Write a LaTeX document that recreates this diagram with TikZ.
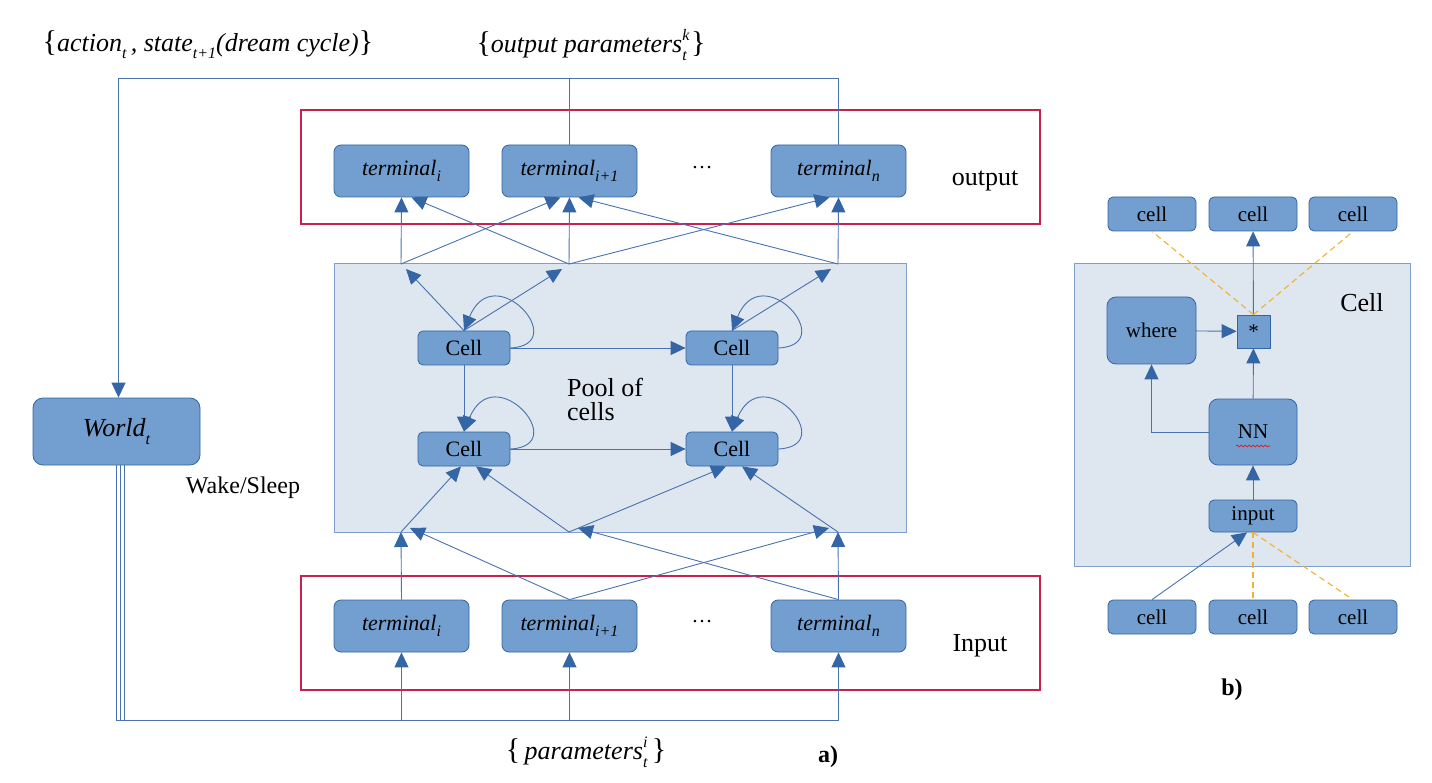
\documentclass[tikz,border=0pt]{standalone}
\usepackage{fontspec}
\setmainfont{Liberation Serif}
\usetikzlibrary{arrows.meta,decorations.pathmorphing}
\definecolor{nfill}{HTML}{729FCF}
\definecolor{nedge}{HTML}{3465A4}
\definecolor{lcol}{HTML}{4A72B0}
\definecolor{poolfill}{HTML}{DEE6EF}
\definecolor{pooledge}{HTML}{7F9FCF}
\definecolor{redc}{HTML}{C9214E}
\definecolor{orng}{HTML}{F0B232}
\newcommand\fs[1]{\fontsize{#1}{#1}\selectfont}
\newcommand\mysub[1]{\raisebox{-0.6ex}{\fs{16}#1}}
\newcommand\mysupsub[2]{\makebox[0pt][l]{\raisebox{1.0ex}{\fs{16}#1}}\raisebox{-0.7ex}{\fs{16}#2}}
\newcommand\bigbr[1]{{\fs{30}\upshape #1}}
\tikzset{
  rbox/.style={draw=nedge, fill=nfill, line width=0.8pt, rounded corners=7pt, inner sep=0pt},
  sbox/.style={draw=nedge, fill=nfill, line width=0.8pt, inner sep=0pt},
  pool/.style={draw=pooledge, fill=poolfill, line width=1pt, inner sep=0pt},
  redbox/.style={draw=redc, line width=1.4pt, inner sep=0pt},
  conn/.style={draw=lcol, line width=0.9pt},
  arr/.style={conn, -{Triangle[length=15pt,width=14pt,color=nedge]}},
  dsh/.style={draw=orng, line width=1.1pt, dash pattern=on 6pt off 4pt},
  term/.style={rbox, minimum width=135, minimum height=52, font=\fs{22}\itshape},
  pcell/.style={rbox, rounded corners=5pt, minimum width=92, minimum height=34, font=\fs{22}},
  bcell/.style={rbox, rounded corners=5pt, minimum width=88, minimum height=34, font=\fs{21}},
  lbl/.style={inner sep=0pt},
}
\begin{document}
\begin{tikzpicture}[x=1pt,y=-1pt]
\useasboundingbox (0,0) rectangle (1432,783);
% ---------- a) ----------
\node[lbl] (lblA) at (208,45) {\fs{26}\itshape \bigbr{\{}action\mysub{t}\,, state\mysub{t+1}(dream cycle)\bigbr{\}}};
\node[lbl] (lblB) at (591,45) {\fs{26}\itshape \bigbr{\{}output parameters\mysupsub{k}{t}\,\bigbr{\}}};
\node[lbl] (lblC) at (586,752) {\fs{26}\itshape \bigbr{\{}\,parameters\mysupsub{i}{t}\,\bigbr{\}}};
\node[lbl] (la) at (828,757) {\fs{24}\bfseries a)};

\node[redbox, minimum width=739, minimum height=114] (outbox) at (670.5,167) {};
\node[redbox, minimum width=739, minimum height=114] (inbox) at (670.5,633) {};
\node[pool, minimum width=572, minimum height=268] (pool) at (620,398) {};

\node[term] (T1) at (401.5,171) {terminal\mysub{i}};
\node[term] (T2) at (569.5,171) {terminal\mysub{i+1}};
\node[term] (Tn) at (838.5,171) {terminal\mysub{n}};
\node[lbl] (dots1) at (702,168) {\fs{21}\dots};
\node[lbl] (outl) at (985,181) {\fs{26}output};

\node[term] (I1) at (401.5,626) {terminal\mysub{i}};
\node[term] (I2) at (569.5,626) {terminal\mysub{i+1}};
\node[term] (In) at (838.5,626) {terminal\mysub{n}};
\node[lbl] (dots2) at (702,622) {\fs{21}\dots};
\node[lbl] (inl) at (980,646) {\fs{26}Input};

\node[rbox, rounded corners=10pt, minimum width=167, minimum height=67, font=\fs{26}\itshape] (W) at (116.5,431.5) {World\mysub{t}};
\node[lbl] (ws) at (243,488) {\fs{24}Wake/Sleep};

\node[pcell] (C1) at (464,348) {Cell};
\node[pcell] (C2) at (732,348) {Cell};
\node[pcell] (C3) at (464,449) {Cell};
\node[pcell] (C4) at (732,449) {Cell};
\node[lbl, align=left, font=\fs{26}] (pooltxt) at (605,399) {Pool of\\[-2pt]cells};

\coordinate (J1) at (401,264);
\coordinate (J2) at (569,264);
\coordinate (J3) at (838,264);
\coordinate (K1) at (401,532);
\coordinate (K2) at (569,532);
\coordinate (K3) at (838,532);
\coordinate (topy) at (0,78);
\coordinate (boty) at (0,720);

% top feedback lines
\draw[conn] (T2.north) -- (T2.north |- topy);
\draw[arr] (Tn.north) -- (Tn.north |- topy) -| ([xshift=2]W.north);

% junctions to output terminals
\draw[arr] (J1) -- (T1.south);
\draw[arr] (J1) -- ([xshift=-9]T2.south);
\draw[arr] (J2) -- ([xshift=10]T1.south);
\draw[arr] (J2) -- (T2.south);
\draw[arr] (J2) -- ([xshift=-9]Tn.south);
\draw[arr] (J3) -- ([xshift=9]T2.south);
\draw[arr] (J3) -- (Tn.south);

% cells to junctions
\draw[arr] (C1.north) -- ([xshift=5,yshift=-5]J1);
\draw[arr] (C1.north) -- ([xshift=-7,yshift=-5]J2);
\draw[arr] (C2.north) -- ([xshift=-7,yshift=-5]J3);

% cell interconnections
\draw[arr] (C1) -- (C2);
\draw[arr] (C3) -- (C4);
\draw[arr] (C1) -- (C3);
\draw[arr] (C2) -- (C4);

% self loops
\foreach \c in {C1,C2,C3,C4}{
  \draw[arr] (\c.east) .. controls +(62,-3) and +(30,-74) .. (\c.north);
}

% bottom junctions to cells
\draw[arr] (K1) -- ([xshift=-3]C3.south);
\draw[arr] (K2) -- ([xshift=12]C3.south);
\draw[arr] (K2) -- ([xshift=-6]C4.south);
\draw[arr] (K3) -- ([xshift=10]C4.south);

% input terminals to bottom junctions
\draw[arr] (I1.north) -- (K1);
\draw[arr] (I2.north) -- ([xshift=9,yshift=4]K1);
\draw[arr] (I2.north) -- ([xshift=-9,yshift=4]K3);
\draw[arr] (In.north) -- ([xshift=9,yshift=4]K2);
\draw[arr] (In.north) -- (K3);

% world to input terminals
\draw[arr] (W.south) -- (W.south |- boty) -| (I1.south);
\draw[arr] ([xshift=4]W.south) -- ([xshift=4]W.south |- boty) -| (I2.south);
\draw[arr] ([xshift=8]W.south) -- ([xshift=8]W.south |- boty) -| (In.south);

% ---------- b) ----------
\node[pool, minimum width=336, minimum height=302] (cellbox) at (1242,415) {};
\node[lbl] (celll) at (1362,303) {\fs{26}Cell};
\node[bcell] (bc1) at (1152,214) {cell};
\node[bcell] (bc2) at (1253,214) {cell};
\node[bcell] (bc3) at (1353,214) {cell};
\node[bcell] (bb1) at (1152,617) {cell};
\node[bcell] (bb2) at (1253,617) {cell};
\node[bcell] (bb3) at (1353,617) {cell};
\node[rbox, rounded corners=9pt, minimum width=89, minimum height=67, font=\fs{21}] (where) at (1151.5,330.5) {where};
\node[sbox, minimum width=33, minimum height=33, font=\fs{21}] (star) at (1253.5,331.5) {*};
\node[rbox, rounded corners=9pt, minimum width=88, minimum height=66, font=\fs{21}] (NN) at (1253,432) {NN};
\node[bcell, minimum height=32] (inp) at (1253,516) {input};
\node[lbl] (lb) at (1232,690) {\fs{24}\bfseries b)};

\draw[red, line width=0.6pt, decorate, decoration={snake, amplitude=1pt, segment length=4pt}] (1236,446) -- (1270,446);

\draw[arr] (star) -- (bc2);
\draw[dsh] (star.north) -- (bc1.south);
\draw[dsh] (star.north) -- (bc3.south);
\draw[arr] (where) -- (star);
\draw[arr] (NN) -- (star);
\draw[arr] (NN.west) -| (where.south);
\draw[arr] (inp) -- (NN);
\draw[arr] (bb1.north) -- ([xshift=-6]inp.south);
\draw[dsh] (inp.south) -- (bb2.north);
\draw[dsh] (inp.south) -- (bb3.north);
\end{tikzpicture}
\end{document}
